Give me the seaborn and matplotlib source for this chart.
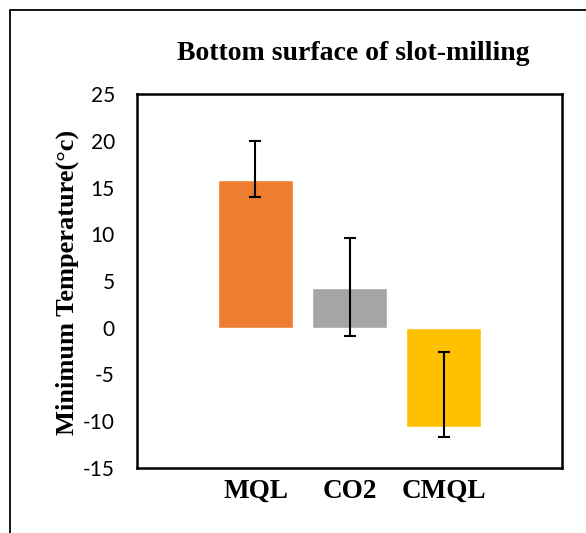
import matplotlib
matplotlib.use("Agg")
import matplotlib.pyplot as plt
from matplotlib.patches import Rectangle
import seaborn as sns
import pandas as pd

# Minimum temperature on the bottom surface of slot-milling, by cooling method
methods = ["MQL", "CO2", "CMQL"]
min_temp = [15.8, 4.2, -10.6]
err_low = [14.0, -0.85, -11.65]
err_high = [20.0, 9.6, -2.55]
bar_colors = ["#ED7D31", "#A5A5A5", "#FFC000"]
y_ticks = [-15, -10, -5, 0, 5, 10, 15, 20, 25]

df = pd.DataFrame({"method": methods, "temp": min_temp})

sns.set_theme(style="white")
plt.rcParams["font.family"] = ["DejaVu Sans"]
plt.rcParams["text.color"] = "black"

fig = plt.figure(figsize=(5.86, 5.33), dpi=100)
ax = fig.add_axes([137 / 586, 1 - 468 / 533, 425 / 586, 374 / 533])

sns.barplot(data=df, x="method", y="temp", hue="method", palette=bar_colors,
            width=0.79, legend=False, errorbar=None, saturation=1, ax=ax)

lower = [m - lo for m, lo in zip(min_temp, err_low)]
upper = [hi - m for m, hi in zip(min_temp, err_high)]
ax.errorbar(range(len(methods)), min_temp, yerr=[lower, upper], fmt="none",
            ecolor="black", elinewidth=1.5, capsize=4.3, capthick=1.5, zorder=5)

ax.set_xlim(-1.26, 3.26)
ax.set_ylim(-15, 25)
ax.set_yticks(y_ticks)
ax.set_yticklabels([str(t) for t in y_ticks], fontfamily="Lato", fontsize=15)
ax.set_xticks(range(len(methods)))
ax.set_xticklabels(methods, fontfamily="Liberation Serif", fontweight="bold", fontsize=19.5)
ax.tick_params(axis="y", length=0, pad=16, labelcolor="black")
ax.tick_params(axis="x", length=0, pad=8, labelcolor="black")
ax.set_xlabel("")
ax.set_ylabel("")
for s in ax.spines.values():
    s.set_visible(True)
    s.set_color("black")
    s.set_linewidth(1.8)

fig.text(353 / 586, 1 - 53 / 533, "Bottom surface of slot-milling",
         ha="center", va="center", fontfamily="Liberation Serif",
         fontweight="bold", fontsize=20, color="black")
fig.text(67 / 586, 1 - 282.5 / 533, "Minimum Temperature(°c)", rotation=90,
         ha="center", va="center", fontfamily="Liberation Serif",
         fontweight="bold", fontsize=19, color="black")

# chart frame (open on the right and bottom edges)
fig.add_artist(Rectangle((10 / 586, -0.2), 1.2, 1.2 - 10 / 533,
                         transform=fig.transFigure, fill=False,
                         edgecolor="black", linewidth=1.3))

fig.savefig("out.png", dpi=100)
